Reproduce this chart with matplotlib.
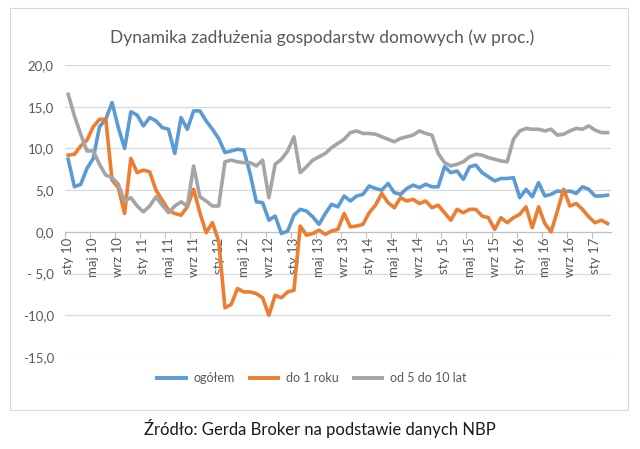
# Dynamika zadluzenia gospodarstw domowych, dane miesieczne sty 2010 - mar 2017
import numpy as np
import matplotlib; matplotlib.use("Agg")
import matplotlib.pyplot as plt
from matplotlib.lines import Line2D
from matplotlib.patches import Rectangle

plt.rcParams["font.family"] = ["Lato", "DejaVu Sans"]

ogolem = [8.7, 5.4, 5.7, 7.6, 8.8, 12.6, 13.5, 15.5, 12.5, 10.0, 14.4, 14.0, 12.7, 13.7, 13.3,
          12.5, 12.3, 9.4, 13.7, 12.3, 14.5, 14.5, 13.3, 12.3, 11.2, 9.5, 9.7, 9.9, 9.8, 7.0,
          3.6, 3.5, 1.4, 1.9, -0.2, 0.1, 2.0, 2.7, 2.5, 1.8, 0.9, 2.2, 3.3, 3.0, 4.3, 3.7, 4.3,
          4.5, 5.5, 5.2, 5.0, 5.8, 4.7, 4.5, 5.2, 5.6, 5.3, 5.7, 5.4, 5.4, 7.8, 7.1, 7.3, 6.3,
          7.8, 8.0, 7.1, 6.6, 6.1, 6.4, 6.4, 6.5, 4.1, 5.1, 4.2, 5.9, 4.3, 4.5, 4.9, 4.8, 4.9,
          4.6, 5.4, 5.1, 4.3, 4.3, 4.4]
do_1_roku = [9.2, 9.3, 10.3, 11.0, 12.6, 13.5, 13.5, 6.2, 5.3, 2.2, 8.8, 7.1, 7.4, 7.2, 5.0,
             3.8, 2.6, 2.2, 2.0, 3.0, 5.1, 2.3, -0.1, 1.1, -1.1, -9.1, -8.7, -6.8, -7.2, -7.2,
             -7.4, -7.9, -10.0, -7.6, -7.9, -7.2, -7.0, 0.7, -0.4, -0.2, 0.2, -0.3, 0.1, 0.3,
             2.2, 0.6, 0.7, 0.9, 2.3, 3.2, 4.6, 3.5, 2.9, 4.1, 3.7, 3.9, 3.4, 3.7, 2.9, 3.2,
             2.3, 1.4, 2.7, 2.3, 2.7, 2.7, 1.9, 1.7, 0.3, 1.7, 1.1, 1.7, 2.1, 3.0, 0.5, 3.0,
             1.0, 0.0, 2.5, 5.1, 3.1, 3.4, 2.7, 1.8, 1.1, 1.4, 1.0]
od_5_do_10 = [16.5, 13.9, 11.7, 9.7, 9.7, 8.1, 6.8, 6.5, 5.7, 3.7, 4.1, 3.1, 2.4, 3.1, 4.2,
              3.2, 2.3, 3.1, 3.6, 3.1, 7.9, 4.2, 3.7, 3.1, 3.1, 8.4, 8.6, 8.4, 8.3, 8.3, 7.9,
              8.6, 4.1, 8.1, 8.7, 9.7, 11.4, 7.1, 7.8, 8.6, 9.0, 9.4, 10.1, 10.6, 11.1, 11.9,
              12.1, 11.8, 11.8, 11.7, 11.4, 11.1, 10.8, 11.2, 11.4, 11.6, 12.1, 11.8, 11.6, 9.4,
              8.3, 7.9, 8.1, 8.4, 9.0, 9.3, 9.2, 8.9, 8.7, 8.5, 8.4, 11.1, 12.1, 12.4, 12.3,
              12.3, 12.1, 12.3, 11.6, 11.7, 12.1, 12.4, 12.3, 12.7, 12.2, 11.9, 11.9]

etykiety = ["sty 10", "maj 10", "wrz 10", "sty 11", "maj 11", "wrz 11", "sty 12", "maj 12",
            "wrz 12", "sty 13", "maj 13", "wrz 13", "sty 14", "maj 14", "wrz 14", "sty 15",
            "maj 15", "wrz 15", "sty 16", "maj 16", "wrz 16", "sty 17"]
y_ticks = [20, 15, 10, 5, 0, -5, -10, -15]
y_labels = ["20,0", "15,0", "10,0", "5,0", "0,0", "- 5,0", "-10,0", "-15,0"]

TXT = "#595959"
GRID = "#d9d9d9"
n = len(ogolem)
x = np.arange(n)

fig = plt.figure(figsize=(6.4, 4.49), dpi=100)
ax = fig.add_axes([0.1016, 0.2049, 0.8526, 0.6503])

# ramka wykresu
fig.patches.append(Rectangle((10 / 640, 1 - 410 / 449), 618 / 640, 402 / 449,
                             transform=fig.transFigure, fill=False, ec=GRID, lw=0.8))

ax.plot(x, ogolem, color="#5b9bd5", lw=2.6, label="ogółem", zorder=3)
ax.plot(x, do_1_roku, color="#ed7d31", lw=2.6, label="do 1 roku", zorder=3)
ax.plot(x, od_5_do_10, color="#a5a5a5", lw=2.6, label="od 5 do 10 lat", zorder=3)

ax.set_xlim(-0.5, n - 0.5)
ax.set_ylim(-15, 20)
ax.set_yticks(y_ticks)
ax.set_yticklabels(y_labels)
for yv in y_ticks:
    ax.axhline(yv, color=GRID, lw=0.9, zorder=1)

for sp in ["top", "right", "left"]:
    ax.spines[sp].set_visible(False)
ax.spines["bottom"].set_position(("data", 0))
ax.spines["bottom"].set_color("#bfbfbf")
ax.spines["bottom"].set_zorder(2)

pos = x[::4][:len(etykiety)]
ax.set_xticks(pos)
ax.set_xticklabels(etykiety, rotation=90, ha="center", va="top")
ax.set_xticks(pos - 0.5, minor=True)
ax.tick_params(axis="x", which="major", length=0, pad=4, labelsize=9.5, labelcolor=TXT)
ax.tick_params(axis="x", which="minor", length=4, color="#bfbfbf", width=0.8)
ax.tick_params(axis="y", length=0, pad=8, labelsize=9.5, labelcolor=TXT)

fig.text(0.503, 1 - 38 / 449, "Dynamika zadłużenia gospodarstw domowych (w proc.)",
         ha="center", va="center", fontsize=12.5, color=TXT)

handles = [Line2D([], [], color=c, lw=2.8) for c in ["#5b9bd5", "#ed7d31", "#a5a5a5"]]
fig.legend(handles, ["ogółem", "do 1 roku", "od 5 do 10 lat"], loc="center",
           bbox_to_anchor=(0.487, 1 - 378 / 449), ncol=3, frameon=False, fontsize=9,
           labelcolor=TXT, handlelength=2.3, handletextpad=0.6, columnspacing=1.2)

fig.text(0.5, 1 - 428 / 449, "Źródło: Gerda Broker na podstawie danych NBP",
         ha="center", va="center", fontsize=12, color="#1a1a1a")

fig.savefig("out.png", dpi=100, facecolor="white")
